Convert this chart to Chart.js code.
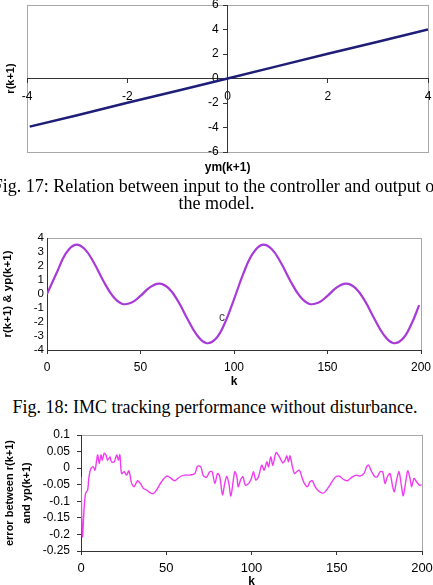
<!DOCTYPE html>
<html><head><meta charset="utf-8">
<script src="https://cdn.jsdelivr.net/npm/chart.js@4.4.1/dist/chart.umd.min.js"></script>
<style>
html,body{margin:0;padding:0;width:433px;height:585px;overflow:hidden;background:#fff;}
.c{position:absolute;left:0;}
.c canvas{display:block;}
.cap{position:absolute;font-family:"Liberation Serif","Times New Roman",serif;font-size:18px;line-height:18px;white-space:nowrap;text-align:center;color:#000;}
.note{position:absolute;font-family:"Liberation Sans",Arial,sans-serif;font-size:12px;line-height:12px;color:#444;}
</style></head><body>
<div class="c" style="top:0"><canvas id="c1" width="433" height="180"></canvas></div>
<div class="cap" style="top:177px;left:-40px;width:513px;">Fig. 17: Relation between input to the controller and output of</div>
<div class="cap" style="top:194px;left:-40px;width:513px;">the model.</div>
<div class="c" style="top:228px"><canvas id="c2" width="433" height="161"></canvas></div>
<div class="note" style="top:311px;left:219px;">c</div>
<div class="cap" style="top:398px;left:-40px;width:510px;">Fig. 18: IMC tracking performance without disturbance.</div>
<div class="c" style="top:428px"><canvas id="c3" width="433" height="165"></canvas></div>
<script>
// ---------- Fig. 17 data ----------
const fig17Ym = [-3.95, -3, -2, -1, 0, 1, 2, 3, 4];
const fig17R  = [-3.93, -3, -1.98, -1, 0, 1.01, 2.02, 3, 4];
const fig17XTicks = [-4, -2, 0, 2, 4];
const fig17YTicks = [-6, -4, -2, 0, 2, 4, 6];

// ---------- Fig. 18 data ----------
const fig18K = [0,5,10,15,20,25,30,35,40,45,50,55,60,65,70,75,80,85,90,95,100,
                105,110,115,120,125,130,135,140,145,150,155,160,165,170,175,180,185,190,195,199];
const fig18Y = [0,1.46,2.88,3.51,3.23,2.25,0.97,-0.12,-0.69,-0.63,-0.13,0.47,0.74,0.42,-0.49,-1.75,-2.90,-3.50,-3.24,-2.11,-0.38,
                1.46,2.88,3.51,3.23,2.25,0.97,-0.12,-0.69,-0.63,-0.13,0.47,0.74,0.42,-0.49,-1.75,-2.90,-3.50,-3.24,-2.11,-0.80];
const fig18XTicks = [0, 50, 100, 150, 200];
const fig18YTicks = [-4, -3, -2, -1, 0, 1, 2, 3, 4];

// ---------- Fig. 19 (error) data ----------
const fig19K = [0,0.8,1.9,2.7,3.9,4.7,5.8,7.2,8.2,9.2,9.8,10.7,11.7,12.5,13.6,14.6,15.6,17,17.9,19.5,
  20.9,21.9,22.8,23.8,25.4,26.7,28.1,29.7,31.2,33.2,35.1,36.5,38.5,40.4,42.4,44.3,47.2,50.2,52.1,55,
  58,60.9,63.8,66.8,68.3,70.3,71.6,73.6,75.5,76.9,78.5,80.1,81.4,83,84.3,85.5,86.7,87.9,89.4,90.2,
  91.4,92.2,93.7,95,96.4,98.4,100,101.2,102.5,104.1,106,107.4,109,110,111.3,112.5,114.4,116.4,118.3,119.7,
  120.7,121.7,122.6,124,125.2,126.5,128.1,129.5,131,132.8,134.3,135.7,137.3,139.2,141.8,143.7,146,149,151.5,153.9,
  156.2,158.8,161.3,163.6,166,167.5,168.7,170.5,172.4,173.8,175.4,176.9,178.3,179.7,181.2,182.8,183.8,185.1,186.5,188,
  189,190.6,191.6,193,193.9,195.3,196.8,198.4,199.8];
const fig19E = [-0.026,-0.207,-0.116,-0.076,-0.066,-0.026,-0.001,0.004,-0.006,0.024,0.040,0.014,0.040,0.024,0.045,0.040,0.024,0.034,0.019,0.019,
  0.040,0.024,0.040,-0.016,-0.011,-0.021,-0.008,-0.046,-0.056,-0.038,-0.048,-0.061,-0.066,-0.074,-0.077,-0.066,-0.041,-0.024,-0.028,-0.038,
  -0.026,-0.021,-0.021,-0.016,0.006,0.004,-0.021,-0.028,-0.011,-0.011,-0.046,-0.016,-0.026,-0.080,-0.046,-0.024,-0.046,-0.084,-0.034,-0.011,
  -0.026,-0.056,-0.034,-0.026,-0.051,-0.046,-0.030,-0.011,-0.036,-0.026,0.009,-0.006,0.019,0.004,0.034,0.009,0.047,0.034,0.016,0.024,
  0.037,0.019,0.037,0.004,-0.016,-0.011,-0.006,-0.026,-0.046,-0.056,-0.041,-0.038,-0.056,-0.068,-0.076,-0.068,-0.051,-0.028,-0.024,-0.034,
  -0.038,-0.028,-0.021,-0.024,-0.016,0.004,0.009,-0.011,-0.026,-0.026,-0.011,-0.011,-0.046,-0.026,-0.016,-0.056,-0.071,-0.036,-0.011,-0.056,
  -0.083,-0.036,-0.008,-0.031,-0.056,-0.031,-0.041,-0.051,-0.051];
const fig19XTicks = [0, 50, 100, 150, 200];
const fig19YTicks = [-0.25, -0.2, -0.15, -0.1, -0.05, 0, 0.05, 0.1];

Chart.defaults.font.family = '"Liberation Sans", Arial, sans-serif';
Chart.defaults.color = '#000';
Chart.defaults.animation = false;

const frame = {
  id: 'frame',
  beforeDraw(chart) {
    const a = chart.chartArea, ctx = chart.ctx;
    ctx.save();
    ctx.strokeStyle = '#a8a8a8';
    ctx.lineWidth = 1;
    ctx.strokeRect(Math.round(a.left) + 0.5, Math.round(a.top) + 0.5,
                   Math.round(a.right - a.left), Math.round(a.bottom - a.top));
    ctx.restore();
  }
};
const setTicks = arr => s => { s.ticks = arr.map(v => ({ value: v })); };
const noPad = s => { s.paddingLeft = 0; s.paddingRight = 0; s.paddingTop = 0; s.paddingBottom = 0; };
const pts = (xs, ys) => xs.map((x, i) => ({ x, y: ys[i] }));
// move a centred axis' tick labels sideways, away from the axis line
const shiftLabels = (s, dx) => {
  if (s.__shifted || typeof s._computeLabelItems !== 'function') return;
  s.__shifted = true;
  const orig = s._computeLabelItems;
  s._computeLabelItems = function (ca) {
    const items = orig.call(this, ca);
    items.forEach(it => { if (it.options && it.options.translation) it.options.translation[0] += dx; });
    return items;
  };
};

// ---------- Chart 1 ----------
new Chart(document.getElementById('c1'), {
  type: 'line',
  data: { datasets: [{ data: pts(fig17Ym, fig17R), borderColor: '#1e1e78', borderWidth: 2.4, pointRadius: 0, tension: 0 }] },
  options: {
    responsive: false,
    layout: { padding: { top: 5, right: 5, left: 0, bottom: 0 } },
    plugins: {
      legend: { display: false }, tooltip: { enabled: false },
      title: { display: true, position: 'left', text: 'r(k+1)', fullSize: false, color: '#000',
               font: { size: 11, weight: 'bold' }, padding: { top: 4, bottom: 10 } },
      subtitle: { display: true, position: 'bottom', text: 'ym(k+1)', fullSize: false, color: '#000',
               font: { size: 12, weight: 'bold' }, padding: { top: 8.8, bottom: 4.8 } }
    },
    scales: {
      x: { type: 'linear', min: -4, max: 4, position: { y: 0 },
           afterBuildTicks: setTicks(fig17XTicks), afterFit: noPad,
           grid: { drawOnChartArea: false, tickLength: 4, color: '#333' },
           border: { color: '#333' },
           ticks: { padding: 7, font: { size: 12 }, color: '#000', autoSkip: false, callback: v => String(v) } },
      y: { type: 'linear', min: -6, max: 6, position: { x: 0 },
           afterBuildTicks: setTicks(fig17YTicks),
           afterFit: s => { noPad(s); shiftLabels(s, -9); },
           grid: { drawOnChartArea: false, tickLength: 4, color: '#333' },
           border: { color: '#333' },
           ticks: { padding: 6, font: { size: 12 }, color: '#000', autoSkip: false, callback: v => String(v) } }
    }
  },
  plugins: [frame]
});

// ---------- Chart 2 ----------
new Chart(document.getElementById('c2'), {
  type: 'line',
  data: { datasets: [{ data: pts(fig18K, fig18Y), borderColor: '#a83ad8', borderWidth: 2.2, pointRadius: 0, tension: 0.4 }] },
  options: {
    responsive: false,
    layout: { padding: { top: 10, right: 12, left: 0, bottom: 0 } },
    plugins: { legend: { display: false }, tooltip: { enabled: false } },
    scales: {
      x: { type: 'linear', position: 'bottom', min: 0, max: 200,
           afterBuildTicks: setTicks(fig18XTicks),
           afterFit: s => { noPad(s); s.height = 39; },
           grid: { drawOnChartArea: false, tickLength: 4, color: '#333' },
           border: { color: '#333' },
           ticks: { padding: 6, font: { size: 12 }, color: '#000', maxRotation: 0, autoSkip: false, callback: v => String(v) },
           title: { display: true, text: 'k', color: '#000', font: { size: 12, weight: 'bold' }, padding: { top: 0, bottom: 0 } } },
      y: { type: 'linear', position: 'left', min: -4, max: 4,
           afterBuildTicks: setTicks(fig18YTicks),
           afterFit: s => { noPad(s); s.width = 47; },
           grid: { drawOnChartArea: false, drawTicks: false, color: '#333' },
           border: { color: '#333' },
           ticks: { padding: 3, font: { size: 11.5 }, color: '#000', autoSkip: false, callback: v => String(v) },
           title: { display: true, text: 'r(k+1) & yp(k+1)', color: '#000', font: { size: 11.5, weight: 'bold' }, padding: { top: 1, bottom: 0 } } }
    }
  },
  plugins: [frame]
});

// ---------- Chart 3 ----------
new Chart(document.getElementById('c3'), {
  type: 'line',
  data: { datasets: [{ data: pts(fig19K, fig19E), borderColor: '#f03cf0', borderWidth: 1.4, pointRadius: 0, tension: 0.3 }] },
  options: {
    responsive: false,
    layout: { padding: { top: 7, right: 11, left: 0, bottom: 0 } },
    plugins: { legend: { display: false }, tooltip: { enabled: false } },
    scales: {
      x: { type: 'linear', position: 'bottom', min: 0, max: 200,
           afterBuildTicks: setTicks(fig19XTicks),
           afterFit: s => { noPad(s); s.height = 42; },
           grid: { drawOnChartArea: false, tickLength: 4, color: '#333' },
           border: { color: '#333' },
           ticks: { padding: 6, font: { size: 13 }, color: '#000', maxRotation: 0, autoSkip: false, callback: v => String(v) },
           title: { display: true, text: 'k', color: '#000', font: { size: 12, weight: 'bold' }, padding: { top: 0, bottom: 4 } } },
      y: { type: 'linear', position: 'left', min: -0.25, max: 0.1,
           afterBuildTicks: setTicks(fig19YTicks),
           afterFit: s => { noPad(s); s.width = 81; },
           grid: { drawOnChartArea: false, tickLength: 4, color: '#333' },
           border: { color: '#333' },
           ticks: { padding: 7, font: { size: 12 }, color: '#000', autoSkip: false, callback: v => String(v) },
           title: { display: true, text: ['error between r(k+1)', 'and yp(k+1)'], color: '#000',
                    font: { size: 11, weight: 'bold', lineHeight: '17px' }, padding: { top: 1.5, bottom: 0 } } }
    }
  },
  plugins: [frame]
});
</script>
</body></html>
